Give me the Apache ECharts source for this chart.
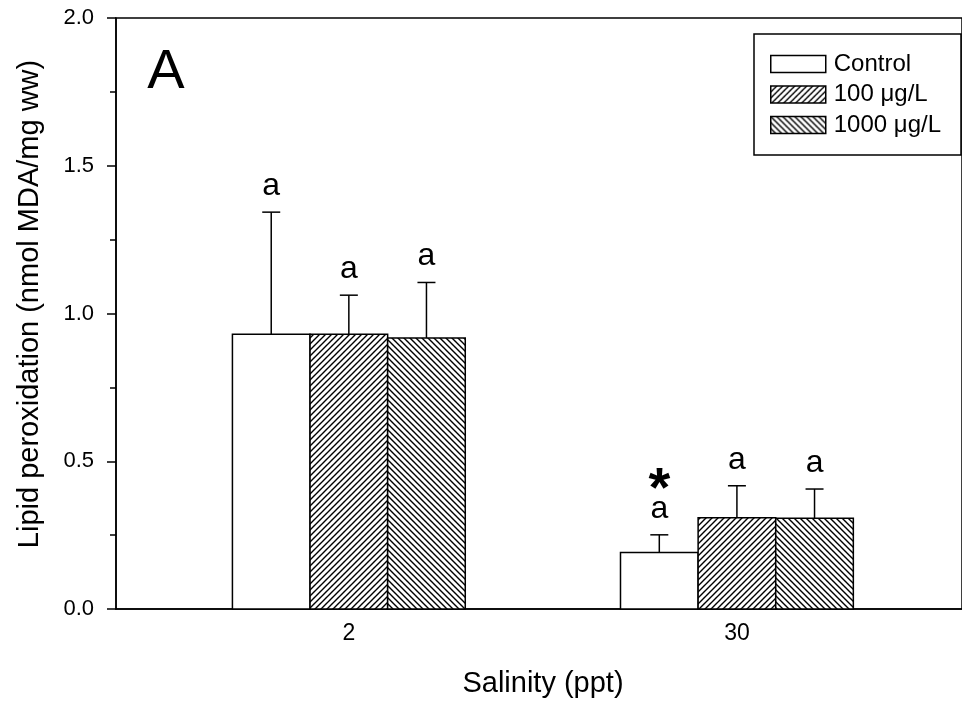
<!DOCTYPE html>
<html>
<head>
<meta charset="utf-8">
<script src="https://cdn.jsdelivr.net/npm/echarts@6/dist/echarts.min.js"></script>
<style>
  html, body { margin: 0; padding: 0; background: #fff; }
  #chart { width: 962px; height: 706px; }
</style>
</head>
<body>
<div id="chart"></div>
<script>
// salinity groups on the x axis
const categories = ['2', '30'];
const groupPos = [1, 2];
const seriesNames = ['Control', '100 μg/L', '1000 μg/L'];

// means and upper error (SE)
const controlMean = [0.930, 0.191];
const controlErr = [0.413, 0.060];
const mean100 = [0.930, 0.309];
const err100 = [0.132, 0.108];
const mean1000 = [0.917, 0.307];
const err1000 = [0.188, 0.099];

// letters above bars, plus the significance star
const controlLetters = ['a', 'a'];
const letters100 = ['a', 'a'];
const letters1000 = ['a', 'a'];
const controlStars = ['', '*'];

const FONT = "'Liberation Sans', Arial, Helvetica, sans-serif";
const BAR_W = 0.2;

// hatch patterns
function hatch(dir) {
  const c = document.createElement('canvas');
  c.width = 6; c.height = 6;
  const g = c.getContext('2d');
  g.fillStyle = '#fff';
  g.fillRect(0, 0, 6, 6);
  g.strokeStyle = '#000';
  g.lineWidth = 1.4;
  g.beginPath();
  if (dir === 'fwd') {
    g.moveTo(-1, 7); g.lineTo(7, -1);
    g.moveTo(-1, 1); g.lineTo(1, -1);
    g.moveTo(5, 7); g.lineTo(7, 5);
  } else {
    g.moveTo(-1, -1); g.lineTo(7, 7);
    g.moveTo(5, -1); g.lineTo(7, 1);
    g.moveTo(-1, 5); g.lineTo(1, 7);
  }
  g.stroke();
  return { image: c, repeat: 'repeat' };
}
const fills = ['#fff', hatch('fwd'), hatch('back')];

function makeData(means, errs, letters, stars) {
  return means.map((m, i) => [groupPos[i], m, errs[i], letters[i], stars ? stars[i] : '']);
}

const seriesData = [
  makeData(controlMean, controlErr, controlLetters, controlStars),
  makeData(mean100, err100, letters100),
  makeData(mean1000, err1000, letters1000)
];

function makeRender(idx) {
  const offset = (idx - 1) * BAR_W;
  return function (params, api) {
    const x = api.value(0) + offset;
    const y = api.value(1);
    const e = api.value(2);
    const raw = seriesData[idx][params.dataIndex];
    const pTop = api.coord([x - BAR_W / 2, y]);
    const pBot = api.coord([x + BAR_W / 2, 0]);
    const cap = api.coord([x, y + e]);
    const children = [
      {
        type: 'rect',
        shape: { x: pTop[0], y: pTop[1], width: pBot[0] - pTop[0], height: pBot[1] - pTop[1] },
        style: { fill: fills[idx], stroke: '#000', lineWidth: 1.5 }
      },
      {
        type: 'line',
        shape: { x1: cap[0], y1: pTop[1], x2: cap[0], y2: cap[1] },
        style: { stroke: '#000', lineWidth: 1.5 }
      },
      {
        type: 'line',
        shape: { x1: cap[0] - 9, y1: cap[1], x2: cap[0] + 9, y2: cap[1] },
        style: { stroke: '#000', lineWidth: 1.5 }
      },
      {
        type: 'text',
        x: cap[0], y: cap[1] - 26,
        style: { text: raw[3], font: '32px ' + FONT, fill: '#000', align: 'center', verticalAlign: 'middle' }
      }
    ];
    if (raw[4]) {
      children.push({
        type: 'text',
        x: cap[0], y: cap[1] - 44,
        style: { text: raw[4], font: 'bold 56px ' + FONT, fill: '#000', align: 'center', verticalAlign: 'middle' }
      });
    }
    return { type: 'group', children: children };
  };
}

const chart = echarts.init(document.getElementById('chart'), null, { renderer: 'canvas' });

const option = {
  animation: false,
  backgroundColor: '#fff',
  grid: {
    left: 116, right: 0, top: 18, bottom: 97,
    show: true, borderColor: '#000', borderWidth: 1.5, backgroundColor: 'transparent'
  },
  legend: {
    orient: 'vertical',
    left: 754, top: 34,
    padding: [18, 20, 18, 16],
    borderColor: '#000', borderWidth: 1.5,
    icon: 'rect',
    itemWidth: 55, itemHeight: 17,
    itemGap: 6.5,
    itemTextGap: 10,
    itemStyle: { borderColor: '#000', borderWidth: 1.5 },
    textStyle: { fontFamily: FONT, fontSize: 24, color: '#000', padding: [0, 0, 0, 3] },
    data: seriesNames
  },
  xAxis: {
    type: 'value',
    min: 0.4, max: 2.58,
    splitLine: { show: false },
    axisTick: { show: false },
    axisLine: { show: true, lineStyle: { color: '#000', width: 1.5 } },
    axisLabel: {
      customValues: groupPos,
      formatter: v => categories[groupPos.indexOf(v)] || '',
      fontFamily: FONT, fontSize: 23, color: '#000', margin: 13
    },
    name: 'Salinity (ppt)',
    nameLocation: 'middle',
    nameGap: 60,
    nameTextStyle: { fontFamily: FONT, fontSize: 29, color: '#000', padding: [0, 0, 0, 8] }
  },
  yAxis: {
    type: 'value',
    min: 0, max: 2, interval: 0.5,
    splitLine: { show: false },
    axisLine: { show: true, lineStyle: { color: '#000', width: 1.5 } },
    axisTick: { show: true, length: 9, lineStyle: { color: '#000', width: 1.5 } },
    minorTick: { show: true, splitNumber: 2, length: 6, lineStyle: { color: '#000', width: 1.5 } },
    axisLabel: {
      formatter: v => v.toFixed(1),
      fontFamily: FONT, fontSize: 22, color: '#000', margin: 22
    },
    name: 'Lipid peroxidation (nmol MDA/mg ww)',
    nameLocation: 'middle',
    nameGap: 72,
    nameRotate: 90,
    nameTextStyle: { fontFamily: FONT, fontSize: 29, color: '#000', padding: [0, 0, 0, 19] }
  },
  graphic: [
    {
      type: 'text',
      x: 166, y: 73,
      style: { text: 'A', font: '56px ' + FONT, fill: '#000', align: 'center', verticalAlign: 'middle' }
    }
  ],
  series: seriesNames.map((name, idx) => ({
    name: name,
    type: 'custom',
    renderItem: makeRender(idx),
    itemStyle: { color: fills[idx], borderColor: '#000', borderWidth: 1.5 },
    encode: { x: 0, y: 1 },
    data: seriesData[idx].map(d => [d[0], d[1], d[2]])
  }))
};

chart.setOption(option);
</script>
</body>
</html>
